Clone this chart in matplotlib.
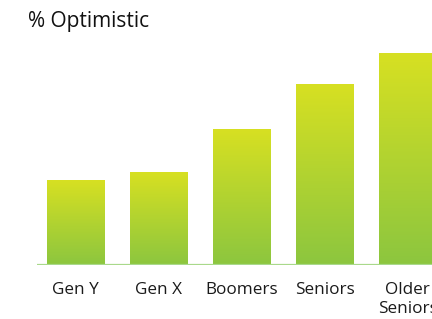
import matplotlib.pyplot as plt
import numpy as np
from matplotlib.colors import LinearSegmentedColormap

groups = ['Gen Y', 'Gen X', 'Boomers', 'Seniors', 'Older\nSeniors']
optimistic = [32, 35, 51, 68, 80]

plt.rcParams['font.family'] = ['Open Sans', 'DejaVu Sans']

fig = plt.figure(figsize=(4.32, 3.19), dpi=100)
ax = fig.add_axes([37 / 432, 1 - 265 / 319, 409 / 432, 212 / 319])

x = np.arange(len(groups))
bars = ax.bar(x, optimistic, width=0.69, color='none', zorder=2)

# vertical gradient per bar: green at the bottom, yellow at the top
cmap = LinearSegmentedColormap.from_list('opt', ['#8cc63f', '#d7e022'])
grad = np.linspace(0, 1, 256).reshape(-1, 1)
for b in bars:
    x0, y0 = b.get_x(), b.get_y()
    ax.imshow(grad, cmap=cmap, origin='lower', aspect='auto',
              extent=[x0, x0 + b.get_width(), y0, y0 + b.get_height()], zorder=1)

ax.axhline(0, color='#a9d98b', lw=1.6, zorder=3)
ax.set_xlim(-0.46, 4.46)
ax.set_ylim(0, 80)
ax.set_xticks(x)
ax.set_xticklabels(groups, fontsize=12.3, color='#1a1a1a', linespacing=1.25)
ax.tick_params(length=0, pad=12)
ax.set_yticks([])
for s in ax.spines.values():
    s.set_visible(False)

fig.text(28 / 432, 1 - 27 / 319, '% Optimistic', fontsize=15, color='#111111',
         fontweight='medium', va='baseline', ha='left')

fig.savefig('out.png', dpi=100)
